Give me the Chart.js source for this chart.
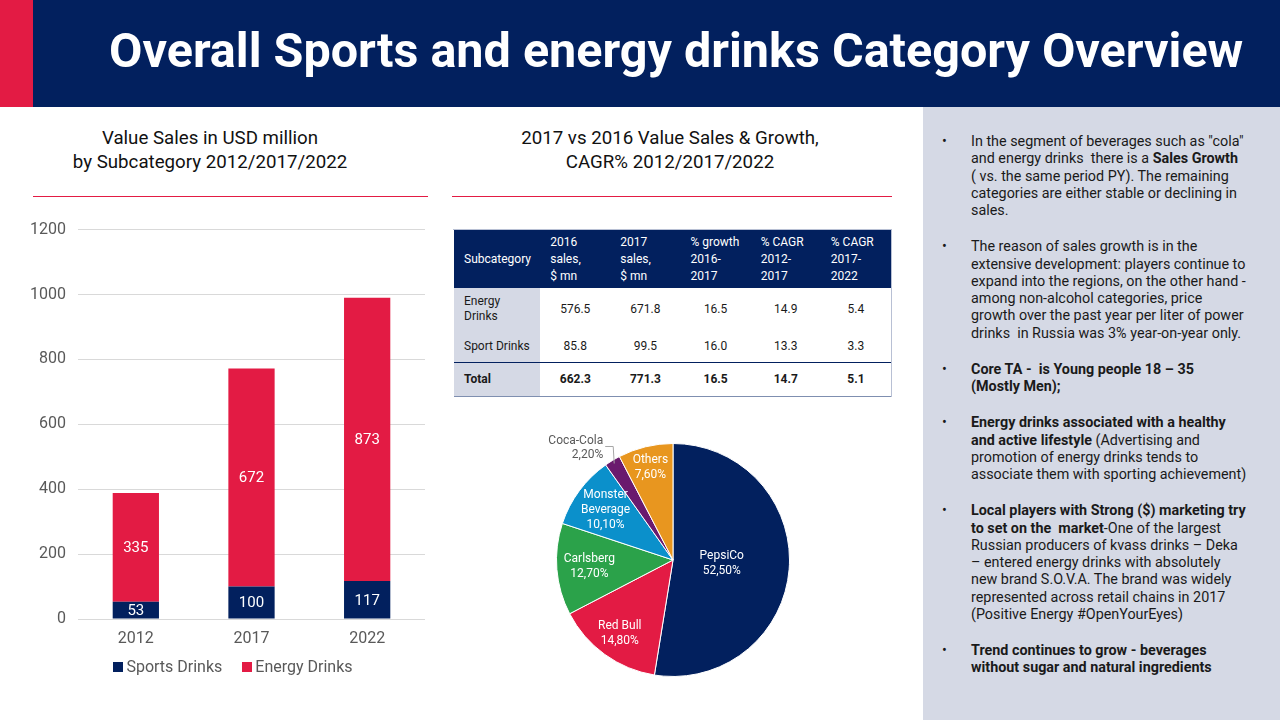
<!DOCTYPE html>
<html>
<head>
<meta charset="utf-8">
<script src="https://cdn.jsdelivr.net/npm/chart.js@4.4.1/dist/chart.umd.min.js"></script>
<style>
  html, body { margin:0; padding:0; background:#ffffff; }
  body { width:1280px; height:720px; position:relative; overflow:hidden; font-family: Roboto, "Noto Sans", sans-serif; }
  .abs { position:absolute; }
  #hdr { left:0; top:0; width:1280px; height:107px; background:#02205e; }
  #hdrRed { left:0; top:0; width:33px; height:107px; background:#e31b44; }
  #title { left:0; top:0; width:1280px; height:107px; color:#fff; font-weight:700; font-size:48.5px; line-height:100px; white-space:nowrap; }
  #title span { position:absolute; left:109px; top:1px; }
  #panel { left:923px; top:107px; width:357px; height:613px; background:#d5d9e5; }
  .sub { font-size:18.7px; line-height:23.5px; color:#111; text-align:center; white-space:nowrap; }
  .redline { height:1px; background:#e31b44; }
  #notes { left:944px; top:133px; width:330px; font-size:14.35px; line-height:17.25px; color:#1a1a1a; }
  #notes .p { position:relative; padding-left:27px; margin-bottom:19px; white-space:nowrap; }
  #notes .p::before { content:"•"; position:absolute; left:-2px; top:0; }
  #tbl { left:454px; top:230px; width:437px; border-collapse:collapse; font-size:12px; color:#1a1a1a; }
  #tbl th { background:#02205e; color:#fff; font-weight:400; text-align:left; vertical-align:middle; padding:0 0 0 10px; line-height:17px; height:58px; }
  #tbl td { text-align:center; vertical-align:middle; padding:0; line-height:15px; }
  #tbl td.first { background:#d5d9e5; text-align:left; padding-left:10px; }
  #tbl tr.r1 td { height:42px; }
  #tbl tr.r2 td { height:32px; }
  #tbl tr.tot td { height:33px; font-weight:700; border-top:1.5px solid #02205e; border-bottom:1px solid #7f8fb0; }
  #tblwrap { left:453px; top:229px; width:438px; height:167px; border-right:1px solid #b8c0d4; border-top:1px solid #b8c0d4;}
  #legend { left:13px; top:657px; width:440px; text-align:center; font-size:16px; color:#595959; white-space:nowrap; }
  #legend .it { display:inline-block; margin:0 10px; }
  #legend .sw { display:inline-block; width:10px; height:10px; margin-right:3px; vertical-align:0px; }
</style>
</head>
<body>
<div id="hdr" class="abs"></div>
<div id="hdrRed" class="abs"></div>
<div id="title" class="abs"><span>Overall Sports and energy drinks Category Overview</span></div>
<div id="panel" class="abs"></div>

<div class="abs sub" style="left:0; top:127px; width:420px;">Value Sales in USD million<br>by Subcategory 2012/2017/2022</div>
<div class="abs redline" style="left:33px; top:196px; width:395px;"></div>
<div class="abs sub" style="left:450px; top:127px; width:440px;">2017 vs 2016 Value Sales &amp; Growth,<br>CAGR% 2012/2017/2022</div>
<div class="abs redline" style="left:452px; top:196px; width:440px;"></div>

<div class="abs" style="left:20px; top:208px; width:420px; height:451px;"><canvas id="bar"></canvas></div>
<div id="legend" class="abs"></div>

<div id="tblwrap" class="abs"></div>
<table id="tbl" class="abs"></table>

<div class="abs" style="left:540px; top:420px; width:266px; height:280px;"><canvas id="pie"></canvas></div>

<div id="notes" class="abs">
  <div class="p">In the segment of beverages such as "cola"<br>and energy drinks&nbsp; there is a <b>Sales Growth</b><br>( vs. the same period PY). The remaining<br>categories are either stable or declining in<br>sales.</div>
  <div class="p">The reason of sales growth is in the<br>extensive development: players continue to<br>expand into the regions, on the other hand -<br>among non-alcohol categories, price<br>growth over the past year per liter of power<br>drinks&nbsp; in Russia was 3% year-on-year only.</div>
  <div class="p"><b>Core TA -&nbsp; is Young people 18 – 35<br>(Mostly Men);</b></div>
  <div class="p"><b>Energy drinks associated with a healthy<br>and active lifestyle</b> (Advertising and<br>promotion of energy drinks tends to<br>associate them with sporting achievement)</div>
  <div class="p"><b>Local players with Strong ($) marketing try<br>to set on the&nbsp; market</b>-One of the largest<br>Russian producers of kvass drinks – Deka<br>– entered energy drinks with absolutely<br>new brand S.O.V.A. The brand was widely<br>represented across retail chains in 2017<br>(Positive Energy #OpenYourEyes)</div>
  <div class="p"><b>Trend continues to grow - beverages<br>without sugar and natural ingredients</b></div>
</div>

<script>
// ---- Data ----
const years = ['2012', '2017', '2022'];
const sportsDrinks = [53, 100, 117];
const energyDrinks = [335, 672, 873];
const seriesNames = ['Sports Drinks', 'Energy Drinks'];

const tableHeader = ['Subcategory', '2016<br>sales,<br>$ mn', '2017<br>sales,<br>$ mn', '% growth<br>2016-<br>2017', '% CAGR<br>2012-<br>2017', '% CAGR<br>2017-<br>2022'];
const rowEnergy = ['Energy<br>Drinks', '576.5', '671.8', '16.5', '14.9', '5.4'];
const rowSport = ['Sport Drinks', '85.8', '99.5', '16.0', '13.3', '3.3'];
const rowTotal = ['Total', '662.3', '771.3', '16.5', '14.7', '5.1'];

const pieLabels = ['PepsiCo', 'Red Bull', 'Carlsberg', 'Monster Beverage', 'Coca-Cola', 'Others'];
const pieShares = [52.5, 14.8, 12.7, 10.1, 2.2, 7.6];

// ---- Styles ----
const NAVY = '#02205e', RED = '#e31b44';
const pieColors = [NAVY, RED, '#2ba24a', '#0b90cb', '#6a1a6e', '#e8961f'];

// ---- Table ----
(function(){
  const t = document.getElementById('tbl');
  let h = '<tr>' + tableHeader.map((c,i)=>'<th style="width:'+(i===0?76:60)+'px">'+c+'</th>').join('') + '</tr>';
  const row = (r, cls) => '<tr class="'+cls+'">' + r.map((c,i)=>'<td class="'+(i===0?'first':'')+'">'+c+'</td>').join('') + '</tr>';
  h += row(rowEnergy,'r1') + row(rowSport,'r2') + row(rowTotal,'tot');
  t.innerHTML = h;
})();

// ---- Legend ----
document.getElementById('legend').innerHTML = seriesNames.map((n,i)=>
  '<span class="it"><span class="sw" style="background:'+(i===0?NAVY:RED)+'"></span>'+n+'</span>').join('');

// ---- Bar chart ----
const barLabelPlugin = {
  id: 'barLabels',
  afterDatasetsDraw(chart) {
    const ctx = chart.ctx;
    ctx.save();
    ctx.fillStyle = '#ffffff';
    ctx.font = '15px Roboto';
    ctx.textAlign = 'center';
    ctx.textBaseline = 'middle';
    chart.data.datasets.forEach((ds, di) => {
      chart.getDatasetMeta(di).data.forEach((el, i) => {
        const top = Math.min(el.y, el.base), bot = Math.max(el.y, el.base);
        ctx.fillText(String(ds.data[i]), el.x, (top + bot) / 2 + 1);
      });
    });
    ctx.restore();
  }
};

new Chart(document.getElementById('bar'), {
  type: 'bar',
  data: {
    labels: years,
    datasets: [
      { label: seriesNames[0], data: sportsDrinks, backgroundColor: NAVY, barPercentage: 0.4, categoryPercentage: 1 },
      { label: seriesNames[1], data: energyDrinks, backgroundColor: RED, barPercentage: 0.4, categoryPercentage: 1 }
    ]
  },
  options: {
    responsive: true, maintainAspectRatio: false, animation: false,
    layout: { padding: { top: 6, right: 15, left: 0, bottom: 0 } },
    plugins: { legend: { display: false }, tooltip: { enabled: false } },
    scales: {
      x: {
        stacked: true,
        grid: { display: false }, border: { display: false },
        ticks: { color: '#595959', font: { size: 16, family: 'Roboto' }, padding: 2 },
        afterFit: s => { s.height = 40; }
      },
      y: {
        stacked: true, min: 0, max: 1200,
        grid: { color: '#d9d9d9', drawTicks: false, lineWidth: 1 },
        border: { display: false },
        ticks: { stepSize: 200, color: '#595959', font: { size: 16, family: 'Roboto' }, padding: 12,
                 callback: v => String(v) },
        afterFit: s => { s.width = 58; }
      }
    }
  },
  plugins: [barLabelPlugin]
});

// ---- Pie chart ----
const pieLabelPlugin = {
  id: 'pieLabels',
  afterDatasetsDraw(chart, args, opts) {
    const ctx = chart.ctx;
    const meta = chart.getDatasetMeta(0);
    const ds = chart.data.datasets[0];
    ctx.save();
    ctx.font = '12px Roboto';
    ctx.textBaseline = 'middle';
    meta.data.forEach((arc, i) => {
      const mid = (arc.startAngle + arc.endAngle) / 2;
      const pct = ds.data[i].toFixed(2).replace('.', ',') + '%';
      const words = chart.data.labels[i] === 'Monster Beverage' ? ['Monster', 'Beverage'] : [chart.data.labels[i]];
      const lines = words.concat([pct]);
      if (opts.outside.includes(i)) {
        const ex = arc.x + Math.cos(mid) * arc.outerRadius * 0.97;
        const ey = arc.y + Math.sin(mid) * arc.outerRadius * 0.97;
        const ly = ey - 17;
        ctx.strokeStyle = '#a6a6a6'; ctx.lineWidth = 1;
        ctx.beginPath(); ctx.moveTo(ex, ey); ctx.lineTo(ex - 1, ly); ctx.lineTo(ex - 9, ly); ctx.stroke();
        ctx.fillStyle = '#595959'; ctx.textAlign = 'right';
        ctx.fillText(lines[0], ex - 11, ly - 5);
        ctx.fillText(lines[1], ex - 11, ly + 9);
      } else {
        const f = opts.radiusFactor[i];
        const cx = arc.x + Math.cos(mid) * arc.outerRadius * f;
        const cy = arc.y + Math.sin(mid) * arc.outerRadius * f;
        ctx.fillStyle = '#ffffff'; ctx.textAlign = 'center';
        const lh = 15;
        lines.forEach((ln, k) => ctx.fillText(ln, cx, cy + (k - (lines.length - 1) / 2) * lh));
      }
    });
    ctx.restore();
  }
};

new Chart(document.getElementById('pie'), {
  type: 'pie',
  data: {
    labels: pieLabels,
    datasets: [{ data: pieShares, backgroundColor: pieColors, borderColor: '#ffffff', borderWidth: 1 }]
  },
  options: {
    responsive: true, maintainAspectRatio: false, animation: false,
    layout: { padding: 16 },
    plugins: {
      legend: { display: false }, tooltip: { enabled: false },
      pieLabels: { outside: [4], radiusFactor: [0.42, 0.78, 0.72, 0.72, 0.8, 0.82] }
    }
  },
  plugins: [pieLabelPlugin]
});
</script>
</body>
</html>
